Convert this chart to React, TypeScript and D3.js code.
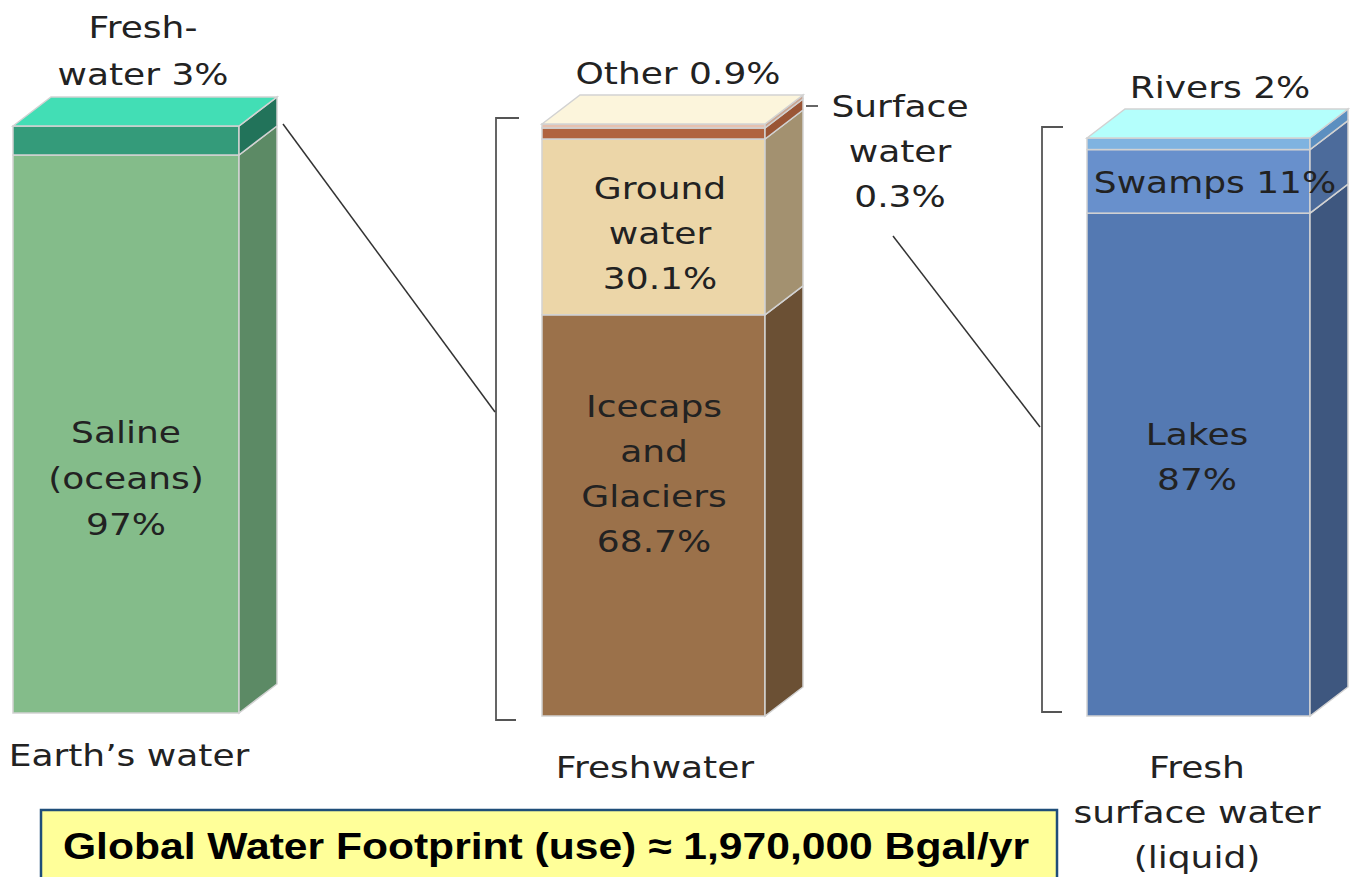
import React from "react";
import * as d3 from "d3";

// ---- data ----
const barNames = ["Earth’s water", "Freshwater", "Fresh surface water (liquid)"];
// segments listed bottom -> top
const earthSegments = ["Saline (oceans)", "Freshwater"];
const earthValues = [97, 3];
const freshSegments = ["Icecaps and Glaciers", "Ground water", "Surface water", "Other"];
const freshValues = [68.7, 30.1, 0.3, 0.9];
const surfaceSegments = ["Lakes", "Swamps", "Rivers"];
const surfaceValues = [87, 11, 2];
const footprintLabel = "Global Water Footprint (use) ≈ 1,970,000 Bgal/yr";

// ---- layout / style ----
const W = 1350, H = 877;
const DX = 38, DY = -29;
const FONT = "DejaVu Sans, Verdana, sans-serif";
const SX = 1.2;

const minPx: Record<string, number> = { "Freshwater": 29, "Surface water": 11, "Other": 4 };

type Col = { front: string; side: string };
const colors: Record<string, Col> = {
  "Saline (oceans)": { front: "#84bc8a", side: "#5c8a65" },
  "Freshwater": { front: "#349b7a", side: "#22735a" },
  "Icecaps and Glaciers": { front: "#9b714a", side: "#6b5034" },
  "Ground water": { front: "#ecd6a8", side: "#a39170" },
  "Surface water": { front: "#b0633f", side: "#9a5535" },
  "Other": { front: "#e6c0ae", side: "#c9a592" },
  "Lakes": { front: "#5479b2", side: "#3e577f" },
  "Swamps": { front: "#6890cc", side: "#4c6b9b" },
  "Rivers": { front: "#7fb3e0", side: "#5c8fc0" },
};
const topColors = ["#42deb5", "#fcf5dc", "#b4fffc"];

const bars = [
  { segs: earthSegments, vals: earthValues, x0: 13, x1: 239, y0: 126, y1: 713 },
  { segs: freshSegments, vals: freshValues, x0: 542, x1: 765, y0: 124, y1: 716 },
  { segs: surfaceSegments, vals: surfaceValues, x0: 1087, x1: 1310, y0: 138, y1: 716 },
];

function layoutBar(b: typeof bars[0]) {
  const hTot = b.y1 - b.y0;
  const fixed = b.vals.map((v, i) => minPx[b.segs[i]] ?? 0);
  const fixedSum = d3.sum(fixed);
  const freeVal = d3.sum(b.vals.filter((_, i) => minPx[b.segs[i]] === undefined));
  const yFree = d3.scaleLinear().domain([0, freeVal]).range([0, hTot - fixedSum]);
  const hs = b.vals.map((v, i) => (minPx[b.segs[i]] !== undefined ? fixed[i] : yFree(v)));
  let cur = b.y1;
  return hs.map((h, i) => {
    const bottom = cur;
    cur -= h;
    return { name: b.segs[i], top: cur, bottom };
  });
}

function T({ x, y, children, anchor = "middle", size = 30 }: any) {
  return (
    <text
      transform={`translate(${x},${y}) scale(${SX},1)`}
      textAnchor={anchor}
      fontFamily={FONT}
      fontSize={size}
      fill="#222"
    >
      {children}
    </text>
  );
}

function Lines({ x, y, lines, gap = 45 }: { x: number; y: number; lines: string[]; gap?: number }) {
  return (
    <g>
      {lines.map((l, i) => (
        <T key={i} x={x} y={y + i * gap}>{l}</T>
      ))}
    </g>
  );
}

export default function App() {
  const edge = "#d2d2d2";
  return (
    <svg width={W} height={H} style={{ position: "absolute", left: 0, top: 0, background: "#fff" }}>
      {bars.map((b, bi) => {
        const segs = layoutBar(b);
        const topSeg = segs[segs.length - 1];
        return (
          <g key={bi}>
            {segs.map((s, si) => (
              <g key={si}>
                <rect x={b.x0} y={s.top} width={b.x1 - b.x0} height={s.bottom - s.top}
                  fill={colors[s.name].front} stroke={edge} strokeWidth={1.5} />
                <path
                  d={`M${b.x1},${s.top} L${b.x1 + DX},${s.top + DY} L${b.x1 + DX},${s.bottom + DY} L${b.x1},${s.bottom} Z`}
                  fill={colors[s.name].side} stroke={edge} strokeWidth={1.5} />
              </g>
            ))}
            <path
              d={`M${b.x0},${topSeg.top} L${b.x0 + DX},${topSeg.top + DY} L${b.x1 + DX},${topSeg.top + DY} L${b.x1},${topSeg.top} Z`}
              fill={topColors[bi]} stroke={edge} strokeWidth={1.5} />
          </g>
        );
      })}

      {/* brackets */}
      <path d="M519,118 L496,118 L496,720 L516,720" fill="none" stroke="#555" strokeWidth={1.8} />
      <path d="M1063,127 L1042,127 L1042,712 L1062,712" fill="none" stroke="#555" strokeWidth={1.8} />
      {/* connectors */}
      <line x1={283} y1={124} x2={495} y2={412} stroke="#333" strokeWidth={1.5} />
      <line x1={893} y1={236} x2={1040} y2={427} stroke="#333" strokeWidth={1.5} />
      <line x1={806} y1={106} x2={818} y2={106} stroke="#333" strokeWidth={1.5} />

      {/* labels bar 1 */}
      <Lines x={143} y={38} lines={["Fresh-", "water 3%"]} gap={47} />
      <Lines x={126} y={443} lines={["Saline", "(oceans)", "97%"]} gap={46} />
      <T x={129} y={766}>{barNames[0]}</T>

      {/* labels bar 2 */}
      <T x={678} y={84}>Other 0.9%</T>
      <Lines x={900} y={117} lines={["Surface", "water", "0.3%"]} gap={45} />
      <Lines x={660} y={199} lines={["Ground", "water", "30.1%"]} gap={45} />
      <Lines x={654} y={417} lines={["Icecaps", "and", "Glaciers", "68.7%"]} gap={45} />
      <T x={655} y={778}>{barNames[1]}</T>

      {/* labels bar 3 */}
      <T x={1220} y={98}>Rivers 2%</T>
      <T x={1215} y={193}>Swamps 11%</T>
      <Lines x={1197} y={445} lines={["Lakes", "87%"]} gap={45} />
      <Lines x={1197} y={778} lines={["Fresh", "surface water", "(liquid)"]} gap={45} />

      {/* footprint box */}
      <rect x={41} y={810} width={1016} height={80} fill="#ffff99" stroke="#1f4e79" strokeWidth={2.5} />
      <text x={546} y={859} textAnchor="middle" fontFamily="Liberation Sans, Arial, sans-serif"
        fontWeight="bold" fontSize={37} fill="#000" textLength={966} lengthAdjust="spacingAndGlyphs">
        {footprintLabel}
      </text>
    </svg>
  );
}
